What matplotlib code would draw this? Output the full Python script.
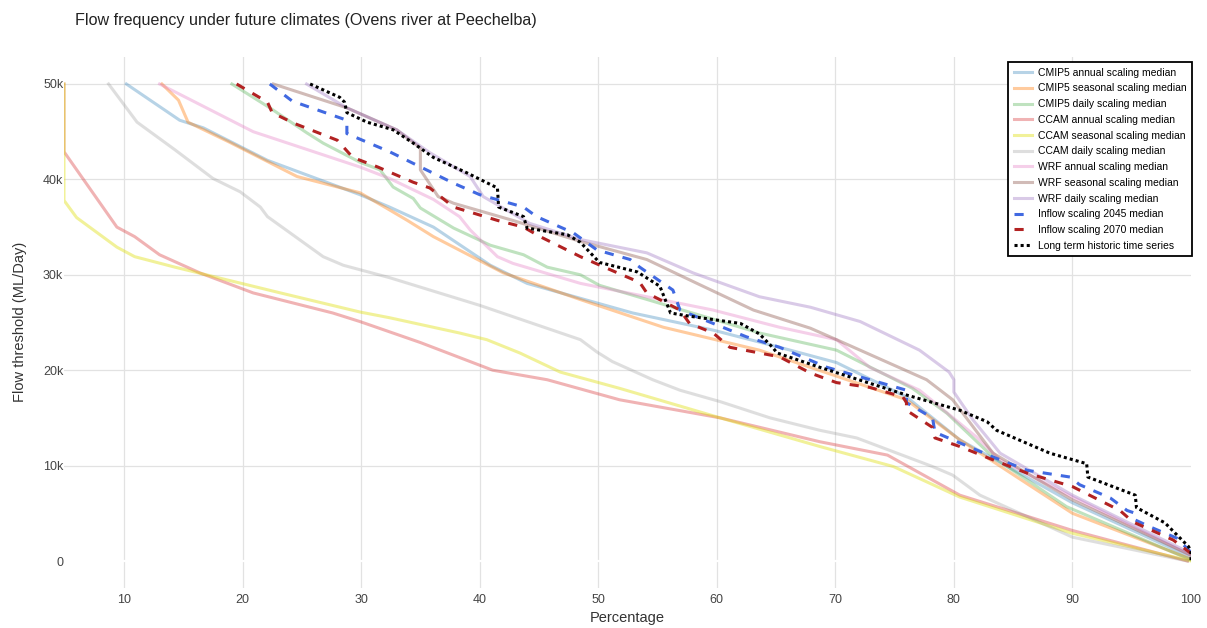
import matplotlib
matplotlib.use("Agg")
import matplotlib.pyplot as plt

plt.rcParams["font.family"] = ["Liberation Sans", "DejaVu Sans"]

# percentage of time (x) that flow exceeds a threshold (y, ML/Day)
cmip5_annual_pct = [10.2, 14.7, 16.7, 22.1, 29.9, 32.4, 36.1, 40.9, 44.0, 52.9, 59.7, 65.3, 70.1, 76.0, 80.5, 90.0, 100]
cmip5_annual_flow = [50000, 46200, 45400, 42000, 38400, 37100, 35000, 31000, 29100, 26000, 24200, 22400, 20800, 17200, 12700, 6100, 400]

cmip5_seasonal_pct = [13.2, 14.6, 15.4, 18.9, 24.6, 29.9, 32.4, 33.9, 36.1, 42.0, 48.5, 55.5, 63.6, 76.0, 80.5, 90.0, 100]
cmip5_seasonal_flow = [50000, 48300, 46000, 43900, 40300, 38600, 36800, 35700, 34000, 30200, 27400, 24500, 22100, 16900, 12700, 5000, 200]

cmip5_daily_pct = [19.1, 22.3, 25.4, 26.8, 29.9, 31.6, 32.7, 34.4, 35.0, 37.8, 40.9, 43.7, 45.7, 48.5, 50.1, 63.6, 70.1, 76.5, 79.4, 83.3, 89.5, 100]
cmip5_daily_flow = [50000, 47500, 44900, 43800, 41800, 41000, 39200, 38000, 37000, 34900, 33100, 32100, 30800, 30000, 28900, 23900, 22100, 18100, 15500, 10900, 5700, 100]

ccam_annual_pct = [4.94, 4.94, 9.4, 10.9, 13.0, 16.4, 20.9, 27.6, 29.9, 35.0, 41.1, 45.7, 51.8, 60.3, 68.7, 74.4, 80.5, 90.0, 99.7]
ccam_annual_flow = [50000, 42900, 35000, 34000, 32100, 30200, 28100, 26000, 25100, 22900, 20000, 19000, 16900, 15000, 12500, 11100, 6900, 3200, 0]

ccam_seasonal_pct = [4.94, 4.94, 6.0, 9.4, 10.9, 14.3, 23.2, 29.9, 32.4, 38.3, 40.6, 43.4, 46.8, 51.8, 60.3, 68.7, 74.9, 80.5, 90.0, 100]
ccam_seasonal_flow = [50000, 37800, 36000, 32900, 31900, 30800, 28100, 26100, 25500, 23900, 23200, 21800, 19800, 18100, 15000, 12000, 9900, 6700, 2900, 0]

ccam_daily_pct = [8.7, 11.1, 14.3, 17.5, 19.8, 21.5, 22.1, 26.8, 28.5, 32.4, 40.0, 48.5, 49.9, 51.2, 54.6, 56.9, 60.3, 64.5, 68.7, 71.8, 78.2, 79.9, 82.2, 90.0, 99.7]
ccam_daily_flow = [50000, 46000, 43100, 40100, 38700, 37100, 36100, 31900, 31000, 29700, 26800, 23200, 21900, 20900, 19000, 17900, 16700, 15000, 13700, 12900, 9900, 9000, 6900, 2500, 0]

wrf_annual_pct = [13.0, 20.9, 29.9, 32.4, 36.1, 38.3, 39.2, 41.5, 42.8, 48.5, 54.1, 59.7, 65.3, 70.1, 72.9, 77.1, 81.9, 83.9, 90.0, 100]
wrf_annual_flow = [50000, 45000, 41300, 40100, 37900, 36100, 34700, 31900, 31200, 29100, 27700, 26300, 24500, 23200, 20300, 17900, 13000, 10600, 6700, 600]

wrf_seasonal_pct = [22.6, 28.8, 33.0, 35.0, 35.0, 36.5, 37.8, 42.8, 48.5, 54.1, 58.5, 63.1, 67.9, 70.1, 77.7, 79.9, 83.3, 90.0, 100]
wrf_seasonal_flow = [50000, 47500, 45200, 43300, 41000, 38200, 37500, 35700, 33500, 31600, 29000, 26300, 24400, 23200, 19000, 16900, 11300, 6400, 600]

wrf_daily_pct = [25.4, 28.8, 33.0, 35.8, 39.2, 40.3, 44.2, 48.5, 54.1, 58.0, 63.6, 67.9, 72.1, 77.1, 79.6, 80.0, 80.0, 81.6, 83.9, 90.0, 100]
wrf_daily_flow = [50000, 47500, 45200, 42800, 40300, 38200, 35400, 33700, 32300, 30200, 27700, 26600, 25100, 22100, 19800, 19000, 17700, 14800, 11300, 6900, 800]

inflow_2045_pct = [22.3, 24.2, 28.8, 28.8, 32.4, 37.8, 40.0, 43.7, 44.8, 47.9, 49.9, 52.7, 53.5, 56.3, 56.9, 58.3, 62.5, 65.3, 69.3, 76.0, 76.0, 78.2, 78.4, 79.9, 83.3, 86.2, 89.8, 90.6, 93.2, 94.6, 95.3, 95.3, 96.5, 98.8, 100]
inflow_2045_flow = [50000, 48200, 46200, 44800, 42900, 39600, 38400, 37100, 36100, 34400, 32600, 31600, 30800, 28400, 26300, 25600, 23500, 22400, 20300, 17900, 16600, 15000, 13500, 12700, 10900, 9500, 8800, 8000, 6600, 5300, 5000, 4300, 3600, 2400, 900]

inflow_2070_pct = [19.5, 22.1, 22.5, 24.3, 28.0, 29.3, 31.4, 34.4, 35.8, 37.8, 41.5, 43.7, 45.1, 48.5, 50.7, 53.5, 54.1, 56.9, 57.7, 59.7, 61.1, 65.3, 67.9, 70.1, 72.9, 75.7, 76.0, 76.0, 78.2, 78.4, 80.5, 83.3, 86.2, 90.0, 94.0, 95.1, 98.5, 100]
inflow_2070_flow = [50000, 48100, 47000, 45900, 44100, 42300, 41300, 39700, 39100, 37100, 35700, 35000, 34000, 31900, 30700, 29200, 28100, 26300, 24900, 23900, 22400, 21400, 19700, 18700, 18200, 17200, 16600, 15800, 14000, 12900, 12000, 10600, 9200, 7800, 5300, 4100, 2200, 800]

historic_pct = [25.7, 28.2, 28.6, 28.8, 30.5, 32.7, 34.4, 36.1, 38.9, 41.5, 41.6, 43.7, 44.0, 47.4, 48.5, 50.1, 53.3, 55.2, 56.1, 57.5, 62.0, 63.6, 64.7, 65.1, 68.7, 76.0, 80.5, 82.8, 83.6, 88.1, 91.2, 91.3, 95.3, 95.4, 97.8, 99.8, 100, 100]
historic_flow = [50000, 48600, 48100, 47000, 46000, 45200, 43800, 42300, 40700, 39100, 37100, 36100, 34900, 34200, 33400, 31300, 30300, 28800, 26000, 25700, 24900, 23800, 22400, 21800, 20300, 17400, 15800, 14600, 13700, 11300, 10200, 8800, 6900, 5600, 4000, 1500, 900, 0]

y_ticks = [0, 10000, 20000, 30000, 40000, 50000]
y_tick_labels = ["0", "10k", "20k", "30k", "40k", "50k"]
x_ticks = [10, 20, 30, 40, 50, 60, 70, 80, 90, 100]

# (label, x, y, colour, alpha)
scaled = [
    ("CMIP5 annual scaling median", cmip5_annual_pct, cmip5_annual_flow, "#1f77b4", 0.32),
    ("CMIP5 seasonal scaling median", cmip5_seasonal_pct, cmip5_seasonal_flow, "#ff7f0e", 0.4),
    ("CMIP5 daily scaling median", cmip5_daily_pct, cmip5_daily_flow, "#2ca02c", 0.3),
    ("CCAM annual scaling median", ccam_annual_pct, ccam_annual_flow, "#d62728", 0.35),
    ("CCAM seasonal scaling median", ccam_seasonal_pct, ccam_seasonal_flow, "#dede00", 0.4),
    ("CCAM daily scaling median", ccam_daily_pct, ccam_daily_flow, "#7f7f7f", 0.25),
    ("WRF annual scaling median", wrf_annual_pct, wrf_annual_flow, "#e377c2", 0.35),
    ("WRF seasonal scaling median", wrf_seasonal_pct, wrf_seasonal_flow, "#8c564b", 0.4),
    ("WRF daily scaling median", wrf_daily_pct, wrf_daily_flow, "#9467bd", 0.35),
]

W, H = 1207, 628
fig = plt.figure(figsize=(W / 100, H / 100), dpi=100)
ax = fig.add_axes([64 / W, 1 - 588 / H, 1127 / W, 531 / H])

for x in x_ticks[:-1]:
    ax.axvline(x, color="#e2e2e2", lw=0.9, zorder=0)
for y in y_ticks[1:]:
    ax.axhline(y, color="#e2e2e2", lw=0.9, zorder=0)
ax.axhline(0, color="white", lw=1.6, zorder=0.5)

for label, xs, ys, colour, alpha in scaled:
    ax.plot(xs, ys, color=colour, alpha=alpha, lw=2.2, label=label, solid_joinstyle="round")

ax.plot(inflow_2045_pct, inflow_2045_flow, color="royalblue", lw=2.2,
        dashes=(3, 3), label="Inflow scaling 2045 median")
ax.plot(inflow_2070_pct, inflow_2070_flow, color="firebrick", lw=2.2,
        dashes=(3, 3), label="Inflow scaling 2070 median")
ax.plot(historic_pct, historic_flow, color="black", lw=2.2,
        dashes=(1, 1), label="Long term historic time series")

ax.set_xlim(4.94, 100)
ax.set_ylim(-2830, 52830)
ax.set_xticks(x_ticks)
ax.set_yticks(y_ticks)
ax.set_yticklabels(y_tick_labels)
ax.tick_params(length=0, labelsize=9, colors="#444444")
ax.tick_params(axis="y", pad=0.5)
ax.tick_params(axis="x", pad=4)
for s in ax.spines.values():
    s.set_visible(False)

fig.text(75 / W, 1 - 20 / H, "Flow frequency under future climates (Ovens river at Peechelba)",
         fontsize=11.6, color="#222222", va="center", ha="left")
fig.text(627 / W, 1 - 618 / H, "Percentage", fontsize=10.5, color="#333333",
         ha="center", va="center")
fig.text(20 / W, 1 - 322 / H, "Flow threshold (ML/Day)", fontsize=10.5, color="#333333",
         ha="center", va="center", rotation=90)

leg = ax.legend(loc="upper right", bbox_to_anchor=((1192 - 64) / 1127, (588 - 62) / 531),
                borderaxespad=0, fontsize=7.5, labelspacing=0.55, handlelength=1.8,
                handletextpad=0.5, borderpad=0.55, fancybox=False, framealpha=1)
leg.get_frame().set_edgecolor("black")
leg.get_frame().set_linewidth(1.3)

plt.savefig("out.png", dpi=100)
